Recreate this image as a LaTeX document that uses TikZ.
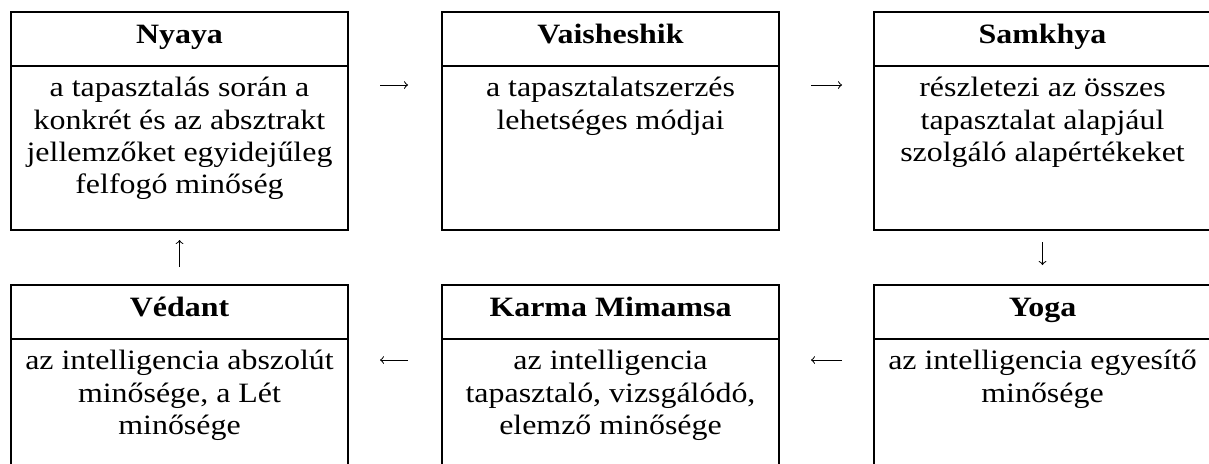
\documentclass[tikz,border=0pt]{standalone}
\usepackage{fontspec}
\setmainfont{Liberation Serif}[FakeStretch=1.14]
\usepackage{tikz}
\usetikzlibrary{arrows,shapes,positioning}
\tikzset{
  fej/.style={draw, rectangle, line width=0.7pt, outer sep=0pt, inner sep=0pt,
    minimum width=168.5pt, minimum height=27pt, text height=9.5pt, text depth=5.5pt,
    font=\fontsize{14pt}{16.2pt}\selectfont\bfseries},
  test/.style={draw, rectangle, line width=0.7pt, outer sep=0pt, inner xsep=0pt,
    inner ysep=4pt, minimum width=168.5pt,
    font=\fontsize{14pt}{16.2pt}\selectfont},
  nyil/.style={->, line width=0.5pt}
}
\newcommand{\celltext}[1]{\parbox[c][74pt][t]{166pt}{\centering\strut #1}}

\begin{document}
\begin{tikzpicture}[x=0.5pt, y=-0.5pt]
        \useasboundingbox (0,0) rectangle (1209,463);
        \clip (0,0) rectangle (1209,463);

        \node[fej] (nyaya) at (179.5,39) {Nyaya};
        \node[test, below=0pt of nyaya] (nyayatext) {\celltext{a tapasztalás során a\\ konkrét és az absztrakt\\ jellemzőket egyidejűleg\\ felfogó minőség}};
        \node[fej] (vaisheshik) at (610.5,39) {Vaisheshik};
        \node[test, below=0pt of vaisheshik] (vaisheshiktext) {\celltext{a tapasztalatszerzés\\ lehetséges módjai}};
        \node[fej] (samkhya) at (1042.5,39) {Samkhya};
        \node[test, below=0pt of samkhya] (samkhyatext) {\celltext{részletezi az összes\\ tapasztalat alapjául\\ szolgáló alapértékeket}};

        \node[fej] (vedant) at (179.5,312) {Védant};
        \node[test, below=0pt of vedant] (vedanttext) {\celltext{az intelligencia abszolút\\ minősége, a Lét\\ minősége}};
        \node[fej] (karma) at (610.5,312) {Karma Mimamsa};
        \node[test, below=0pt of karma] (karmatext) {\celltext{az intelligencia\\ tapasztaló, vizsgálódó,\\ elemző minősége}};
        \node[fej] (yoga) at (1042.5,312) {Yoga};
        \node[test, below=0pt of yoga] (yogatext) {\celltext{az intelligencia egyesítő\\ minősége}};

        \draw[nyil, shorten <=16pt, shorten >=17pt] ([yshift=-9.5pt]nyayatext.north east) -- ([yshift=-9.5pt]vaisheshiktext.north west);
        \draw[nyil, shorten <=16pt, shorten >=16pt] ([yshift=-9.5pt]vaisheshiktext.north east) -- ([yshift=-9.5pt]samkhyatext.north west);
        \draw[nyil, shorten <=6pt, shorten >=10pt] (samkhyatext.south) -- (yoga.north);
        \draw[nyil, shorten <=16pt, shorten >=16pt] ([yshift=-10.5pt]yogatext.north west) -- ([yshift=-10.5pt]karmatext.north east);
        \draw[nyil, shorten <=17pt, shorten >=16pt] ([yshift=-10.5pt]karmatext.north west) -- ([yshift=-10.5pt]vedanttext.north east);
        \draw[nyil, shorten <=9pt, shorten >=5pt] (vedant.north) -- (nyayatext.south);
    \end{tikzpicture}
\end{document}
